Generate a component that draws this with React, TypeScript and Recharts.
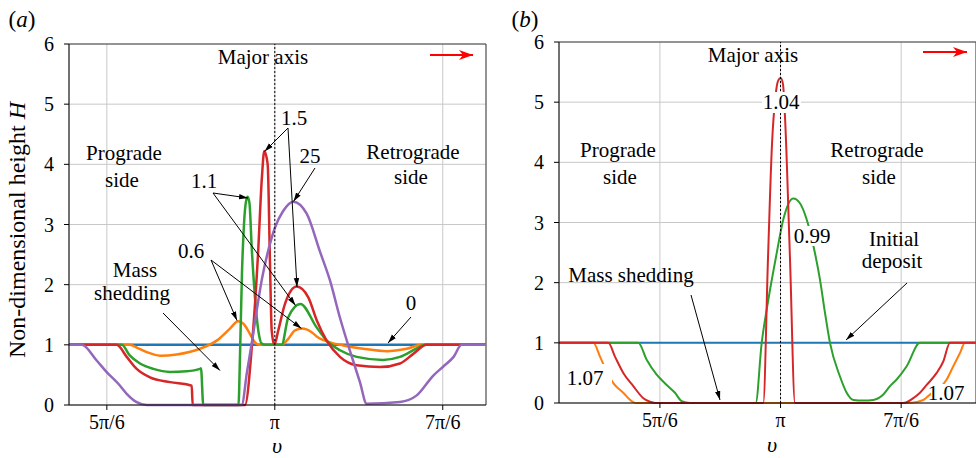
import React from 'react'
import { LineChart, Line, XAxis, YAxis, CartesianGrid, ReferenceLine } from 'recharts'

const FONT = '"Liberation Serif", "Times New Roman", serif'

const xTicks = [(5 * Math.PI) / 6, Math.PI, (7 * Math.PI) / 6]
const xTickLabels = ['5π/6', 'π', '7π/6']
const yTicks = [0, 1, 2, 3, 4, 5, 6]

// panel (a): curves labelled 0, 0.6, 1.1, 1.5, 25
const aBlueX = [2.5, 3.8]
const aBlueY = [1, 1]

const aOrangeX = [2.5, 2.69, 2.713, 2.7422, 2.7837, 2.8357, 2.9084, 2.9604, 3.0019, 3.0268, 3.0486, 3.0642, 3.0798, 3.0901, 3.163, 3.1836, 3.2045, 3.2263, 3.2566, 3.2722, 3.3136, 3.355, 3.4174, 3.4903, 3.5527, 3.5995, 3.8]
const aOrangeY = [1, 1, 0.95, 0.88, 0.82, 0.84, 0.935, 1.07, 1.27, 1.39, 1.32, 1.18, 1.04, 1.0, 1.0, 1.1, 1.24, 1.27, 1.21, 1.14, 1.04, 0.99, 0.935, 0.895, 0.935, 1.0, 1]

const aGreenX = [2.5, 2.6643, 2.69, 2.7213, 2.7628, 2.8148, 2.8669, 2.9084, 2.9115, 2.9186, 3.0284, 3.033, 3.0393, 3.0455, 3.0517, 3.057, 3.0627, 3.0695, 3.0798, 3.0901, 3.1007, 3.111, 3.163, 3.1836, 3.2216, 3.272, 3.3033, 3.3448, 3.3968, 3.479, 3.5318, 3.5838, 3.61, 3.8]
const aGreenY = [1, 1, 0.82, 0.69, 0.6, 0.55, 0.56, 0.6, 0.61, 0, 0, 0.8, 2.2, 3.0, 3.38, 3.46, 3.35, 2.63, 1.79, 1.24, 1.02, 1.0, 1.0, 1.46, 1.68, 1.29, 1.07, 0.91, 0.8, 0.75, 0.8, 0.94, 1.0, 1]

const aRedX = [2.5, 2.6487, 2.68, 2.711, 2.7525, 2.815, 2.8825, 2.8856, 3.0486, 3.0705, 3.0892, 3.1016, 3.1088, 3.1194, 3.1266, 3.1319, 3.14, 3.1524, 3.1733, 3.2098, 3.246, 3.2722, 3.3033, 3.3448, 3.3968, 3.4694, 3.5318, 3.5733, 3.615, 3.8]
const aRedY = [1, 1, 0.8, 0.6, 0.46, 0.38, 0.32, 0, 0, 1, 2.5, 3.8, 4.22, 4.0, 2.35, 1.24, 1.0, 1.24, 1.68, 1.97, 1.79, 1.41, 1.07, 0.8, 0.66, 0.63, 0.69, 0.85, 1.0, 1]

const aPurpleX = [2.5, 2.5396, 2.5863, 2.6175, 2.6537, 2.6799, 2.711, 2.7422, 3.0384, 3.0549, 3.0704, 3.086, 3.1016, 3.1203, 3.1422, 3.1671, 3.1992, 3.241, 3.2824, 3.3136, 3.3447, 3.3759, 3.407, 3.428, 3.5318, 3.584, 3.6357, 3.667, 3.699, 3.724, 3.8]
const aPurpleY = [1, 1, 0.74, 0.546, 0.353, 0.186, 0.047, 0, 0, 0.55, 1.05, 1.6, 2.1, 2.55, 2.95, 3.22, 3.38, 3.18, 2.55, 2.07, 1.45, 0.9, 0.38, 0.02, 0.05, 0.16, 0.49, 0.64, 0.8, 1, 1]

// panel (b): initial deposit, 1.07, 0.99, 1.04
const bBlueX = [2.18, 3.99]
const bBlueY = [1, 1]

const bOrangeX = [2.18, 2.329, 2.358, 2.384, 2.4157, 2.459, 2.4955, 2.514, 3.7034, 3.7612, 3.79, 3.8336, 3.8627, 3.8914, 3.9205, 3.9422, 3.99]
const bOrangeY = [1, 1, 0.77, 0.55, 0.33, 0.17, 0.03, 0, 0, 0.05, 0.14, 0.25, 0.39, 0.61, 0.83, 1, 1]

const bGreenX = [2.18, 2.5242, 2.5606, 2.604, 2.6474, 2.6835, 2.7126, 2.7486, 3.0337, 3.0598, 3.0884, 3.1249, 3.1535, 3.1969, 3.226, 3.2551, 3.2911, 3.3128, 3.3345, 3.3562, 3.3996, 3.4287, 3.4573, 3.5008, 3.5442, 3.5876, 3.6166, 3.6457, 3.6891, 3.7468, 3.99]
const bGreenY = [1, 1, 0.72, 0.47, 0.3, 0.17, 0.03, 0, 0, 1.0, 1.71, 2.49, 3.05, 3.4, 3.32, 3.05, 2.49, 2.05, 1.5, 1.0, 0.44, 0.17, 0.05, 0.04, 0.05, 0.14, 0.28, 0.39, 0.61, 1.0, 1]

const bRedX = [2.18, 2.394, 2.423, 2.459, 2.5025, 2.546, 2.575, 2.597, 3.0667, 3.0871, 3.1045, 3.1197, 3.1305, 3.1422, 3.1522, 3.1609, 3.1826, 3.2043, 3.6744, 3.7178, 3.7468, 3.7759, 3.8193, 3.848, 3.877, 3.99]
const bRedY = [1, 1, 0.77, 0.5, 0.28, 0.08, 0.02, 0, 0, 2.4, 4.3, 5.1, 5.35, 5.4, 5.3, 4.76, 2.4, 0, 0, 0.08, 0.17, 0.3, 0.5, 0.69, 1.0, 1]

const BLUE = '#1f77b4'
const ORANGE = '#ff7f0e'
const GREEN = '#2ca02c'
const RED = '#d62728'
const PURPLE = '#9467bd'

const pts = (xs: number[], ys: number[]) => xs.map((x, i) => ({ x, y: ys[i] }))

type Series = { data: { x: number; y: number }[]; color: string }

function Panel(props: {
  width: number
  top: number
  right: number
  xAxisHeight: number
  domain: [number, number]
  series: Series[]
  lineWidth: number
}) {
  const { width, top, right, xAxisHeight, domain, series, lineWidth } = props
  const tickStyle = { fontFamily: FONT, fontSize: 20, fill: '#000' }
  return (
    <LineChart width={width} height={458} margin={{ top, right, bottom: 0, left: 0 }}>
      <CartesianGrid stroke='#c8c8c8' strokeWidth={1} />
      <XAxis
        type='number'
        dataKey='x'
        domain={domain}
        ticks={xTicks}
        interval={0}
        height={xAxisHeight}
        tickSize={5}
        tickMargin={5}
        tick={tickStyle}
        axisLine={{ stroke: '#000' }}
        tickLine={{ stroke: '#000' }}
        tickFormatter={(v: number) => {
          const i = xTicks.findIndex((t) => Math.abs(t - v) < 1e-6)
          return i >= 0 ? xTickLabels[i] : ''
        }}
      />
      <YAxis
        type='number'
        dataKey='y'
        domain={[0, 6]}
        ticks={yTicks}
        interval={0}
        width={69}
        tickSize={5}
        tickMargin={10}
        tick={tickStyle}
        axisLine={{ stroke: '#000' }}
        tickLine={{ stroke: '#000' }}
      />
      <ReferenceLine y={6} stroke='#444' strokeWidth={1} />
      <ReferenceLine x={domain[1]} stroke='#444' strokeWidth={1} />
      {series.map((s, i) => (
        <Line
          key={i}
          data={s.data}
          dataKey='y'
          type='monotone'
          stroke={s.color}
          strokeWidth={lineWidth}
          dot={false}
          activeDot={false}
          isAnimationActive={false}
        />
      ))}
      <ReferenceLine x={Math.PI} stroke='#000' strokeWidth={1} strokeDasharray='2 2' />
    </LineChart>
  )
}

function Arrow({ x1, y1, x2, y2 }: { x1: number; y1: number; x2: number; y2: number }) {
  return <line x1={x1} y1={y1} x2={x2} y2={y2} stroke='#000' strokeWidth={1} markerEnd='url(#ah)' />
}

function T({ x, y, children, bg }: { x: number; y: number; children: React.ReactNode; bg?: [number, number, number, number] }) {
  return (
    <g>
      {bg && <rect x={bg[0]} y={bg[1]} width={bg[2]} height={bg[3]} fill='#fff' />}
      <text x={x} y={y} textAnchor='middle' fontSize={21} fontFamily={FONT} fill='#000'>
        {children}
      </text>
    </g>
  )
}

export default function App() {
  const seriesA: Series[] = [
    { data: pts(aBlueX, aBlueY), color: BLUE },
    { data: pts(aOrangeX, aOrangeY), color: ORANGE },
    { data: pts(aGreenX, aGreenY), color: GREEN },
    { data: pts(aRedX, aRedY), color: RED },
    { data: pts(aPurpleX, aPurpleY), color: PURPLE },
  ]
  const seriesB: Series[] = [
    { data: pts(bBlueX, bBlueY), color: BLUE },
    { data: pts(bOrangeX, bOrangeY), color: ORANGE },
    { data: pts(bGreenX, bGreenY), color: GREEN },
    { data: pts(bRedX, bRedY), color: RED },
  ]

  return (
    <div style={{ position: 'absolute', left: 0, top: 0, width: 976, height: 458, background: '#fff', overflow: 'hidden' }}>
      <div style={{ position: 'absolute', left: 0, top: 0 }}>
        <Panel width={490} top={44} right={4} xAxisHeight={53} domain={[2.5, 3.8]} series={seriesA} lineWidth={2.5} />
      </div>
      <div style={{ position: 'absolute', left: 490, top: 0 }}>
        <Panel width={486} top={42} right={0} xAxisHeight={55} domain={[2.18, 3.99]} series={seriesB} lineWidth={2} />
      </div>
      <svg width={976} height={458} style={{ position: 'absolute', left: 0, top: 0, pointerEvents: 'none' }}>
        <defs>
          <marker id='ah' viewBox='0 0 10 10' refX='10' refY='5' markerWidth='9' markerHeight='9' orient='auto'>
            <path d='M0,2 L10,5 L0,8 z' fill='#000' />
          </marker>
          <marker id='rh' viewBox='0 0 14 10' refX='14' refY='5' markerUnits='userSpaceOnUse' markerWidth='14' markerHeight='10' orient='auto'>
            <path d='M0,0 L14,5 L0,10 L4,5 z' fill='#ff0000' />
          </marker>
        </defs>

        {/* panel (a) */}
        <text x={22} y={27} textAnchor='middle' fontSize={23} fontFamily={FONT}>
          (<tspan fontStyle='italic'>a</tspan>)
        </text>
        <text x={25} y={230} transform='rotate(-90 25 230)' textAnchor='middle' fontSize={24} fontFamily={FONT}>
          Non-dimensional height <tspan fontStyle='italic'>H</tspan>
        </text>
        <text x={277} y={453} textAnchor='middle' fontSize={22} fontStyle='italic' fontFamily={FONT}>υ</text>
        <line x1={430} y1={55} x2={473} y2={55} stroke='#ff0000' strokeWidth={2} markerEnd='url(#rh)' />
        <T x={263} y={64}>Major axis</T>
        <T x={294} y={125}>1.5</T>
        <T x={310} y={163}>25</T>
        <T x={204} y={188}>1.1</T>
        <T x={191} y={258}>0.6</T>
        <T x={411} y={310}>0</T>
        <T x={124} y={160}>Prograde</T>
        <T x={122} y={187}>side</T>
        <T x={413} y={159}>Retrograde</T>
        <T x={411} y={184}>side</T>
        <T x={135} y={277}>Mass</T>
        <T x={132} y={300}>shedding</T>
        <Arrow x1={288} y1={128} x2={264.5} y2={151.5} />
        <Arrow x1={288} y1={128} x2={297} y2={287} />
        <Arrow x1={315} y1={168} x2={293.5} y2={201.5} />
        <Arrow x1={213} y1={193} x2={248} y2={198} />
        <Arrow x1={213} y1={193} x2={295.5} y2={305.5} />
        <Arrow x1={211} y1={260} x2={237} y2={320.5} />
        <Arrow x1={211} y1={260} x2={301.5} y2={328.5} />
        <Arrow x1={163} y1={313} x2={220} y2={370.5} />
        <Arrow x1={411} y1={317} x2={388} y2={343} />

        {/* panel (b) */}
        <text x={525} y={27} textAnchor='middle' fontSize={23} fontFamily={FONT}>
          (<tspan fontStyle='italic'>b</tspan>)
        </text>
        <text x={772} y={452} textAnchor='middle' fontSize={22} fontStyle='italic' fontFamily={FONT}>υ</text>
        <line x1={923} y1={52} x2={967} y2={52} stroke='#ff0000' strokeWidth={2} markerEnd='url(#rh)' />
        <T x={753} y={62}>Major axis</T>
        <T x={781} y={109} bg={[762, 92, 39, 21]}>1.04</T>
        <T x={618} y={157}>Prograde</T>
        <T x={620} y={184}>side</T>
        <T x={877} y={157}>Retrograde</T>
        <T x={879} y={184}>side</T>
        <T x={812} y={243} bg={[792, 226, 41, 20]}>0.99</T>
        <T x={894} y={246}>Initial</T>
        <T x={892} y={268}>deposit</T>
        <T x={631} y={282}>Mass shedding</T>
        <T x={585} y={385} bg={[564, 364, 48, 27]}>1.07</T>
        <T x={946} y={400} bg={[931, 384, 36, 17]}>1.07</T>
        <Arrow x1={907} y1={283} x2={846} y2={340} />
        <Arrow x1={691} y1={295} x2={720} y2={400} />
      </svg>
    </div>
  )
}
